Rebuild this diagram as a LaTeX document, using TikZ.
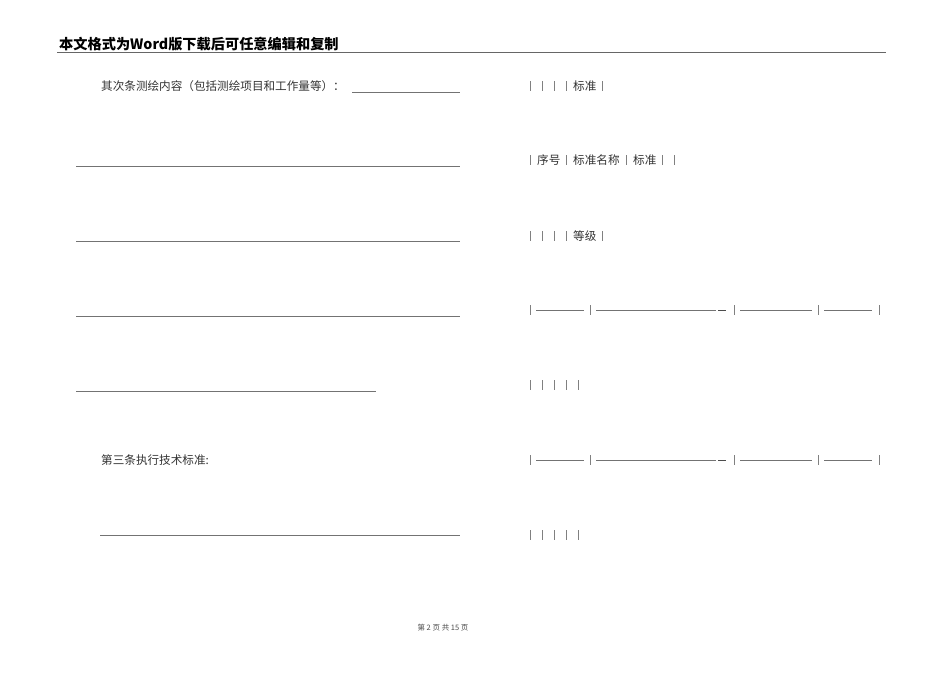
\documentclass[tikz,border=0pt]{standalone}
\usepackage{fontspec}
\setmainfont{Noto Sans CJK SC}
\newcommand{\mypipe}[2]{\draw[draw=black!50, line width=0.5pt] (#1,#2-5) -- (#1,#2+5);}
\begin{document}
\begin{tikzpicture}[x=1pt,y=-1pt,
  body/.style={font=\fontsize{11.6}{13}\selectfont, text=black!80, inner sep=0, anchor=west},
  rule/.style={draw=black!55, line width=0.5pt}]
\useasboundingbox (0,0) rectangle (950,672);
\fill[white] (0,0) rectangle (950,672);
\node[font=\bfseries\fontsize{14.2}{16}\selectfont, inner sep=0, anchor=west] (hdr) at (59,44) {本文格式为Word版下载后可任意编辑和复制};
\draw[draw=black!60, line width=1pt] (57,52.5) -- (886,52.5);
\node[body] (t1) at (101,86) {其次条测绘内容（包括测绘项目和工作量等）：};
\draw[rule] (352,92) -- (460,92);
\foreach \y in {166,241,316} \draw[rule] (76,\y) -- (460,\y);
\draw[rule] (76,391) -- (376,391);
\node[body] (t2) at (101,460) {第三条执行技术标准:};
\draw[rule] (100,535) -- (460,535);
\foreach \x in {530,542,554,566,602} {\mypipe{\x}{86}}
\node[body] (r1) at (573,86) {标准};
\foreach \x in {530,566,626,662,674} {\mypipe{\x}{160}}
\node[body] (r2a) at (537,160) {序号};
\node[body] (r2b) at (573,160) {标准名称};
\node[body] (r2c) at (633,160) {标准};
\foreach \x in {530,542,554,566,602} {\mypipe{\x}{236}}
\node[body] (r3) at (573,236) {等级};
\foreach \y in {310,460}{
  \foreach \x in {530,590,734,818,879} {\mypipe{\x}{\y}}
  \draw[rule] (536,\y) -- (584,\y);
  \draw[rule] (596,\y) -- (716,\y);
  \draw[draw=black!70, line width=0.7pt] (718,\y) -- (726,\y);
  \draw[rule] (740,\y) -- (812,\y);
  \draw[rule] (824,\y) -- (872,\y);
}
\foreach \y in {385,535}{\foreach \x in {530,542,554,566,578} {\mypipe{\x}{\y}}}
\node[font=\fontsize{7.5}{9}\selectfont, text=black!70] (ft) at (443,628) {第\ 2\ 页\ 共\ 15\ 页};
\end{tikzpicture}
\end{document}
